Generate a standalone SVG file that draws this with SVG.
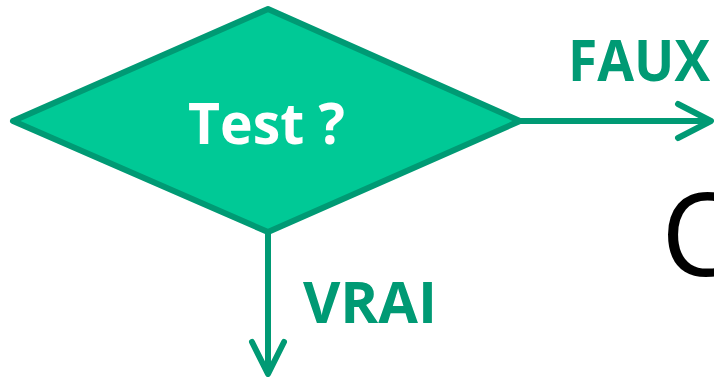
<svg xmlns="http://www.w3.org/2000/svg" width="714" height="377" viewBox="0 0 714 377">
  <style>
    .decision { fill: #00C996; stroke: #009A74; stroke-width: 6; stroke-linejoin: round; }
    .flow { fill: none; stroke: #009A74; stroke-width: 6; stroke-linecap: round; stroke-linejoin: round; }
    .label { font-family: "Open Sans", "Liberation Sans", sans-serif; font-weight: bold; font-size: 57px; fill: #009A74; }
    .inside { font-family: "Open Sans", "Liberation Sans", sans-serif; font-weight: bold; font-size: 57px; fill: #FFFFFF; }
    .big { font-family: "Open Sans", "Liberation Sans", sans-serif; font-size: 115px; fill: #000000; }
  </style>
  <rect width="714" height="377" fill="#FFFFFF"/>

  <g id="connectors">
    <!-- FAUX branch to the right -->
    <path class="flow" d="M521 121 H710"/>
    <path class="flow" d="M678 104 L711 121 L678 138"/>
    <!-- VRAI branch downward -->
    <path class="flow" d="M268 232 V372"/>
    <path class="flow" d="M252 342 L268 374 L284 342"/>
  </g>

  <g id="test-node">
    <polygon class="decision" points="268,9 520,121 268,232 13,121"/>
    <text class="inside" x="188" y="144" textLength="157" lengthAdjust="spacingAndGlyphs">Test ?</text>
  </g>

  <g id="label-faux">
    <text class="label" x="568" y="81" textLength="142" lengthAdjust="spacingAndGlyphs">FAUX</text>
  </g>

  <g id="label-vrai">
    <text class="label" x="303" y="323" textLength="134" lengthAdjust="spacingAndGlyphs">VRAI</text>
  </g>

  <g id="next-node">
    <text class="big" x="661" y="276">C</text>
  </g>
</svg>
